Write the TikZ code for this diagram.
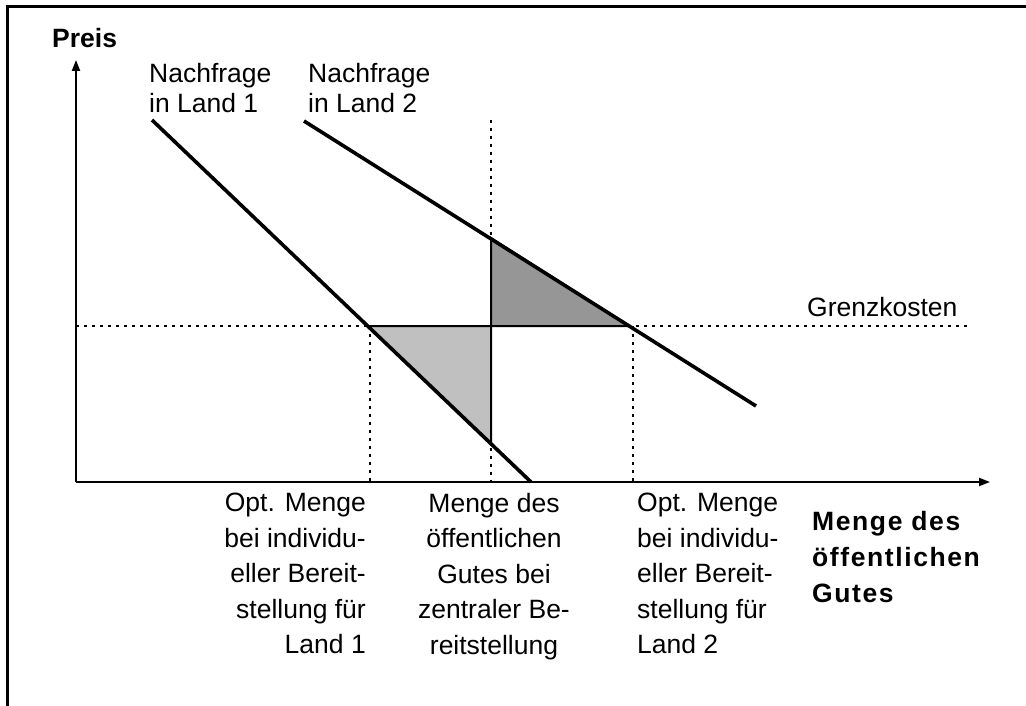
\documentclass[tikz,border=0pt]{standalone}
\usepackage{fontspec}
\setmainfont{Liberation Sans}
\newfontfamily\spacedfont[LetterSpace=6.0]{Liberation Sans}
\usetikzlibrary{arrows.meta}
\definecolor{lightfill}{HTML}{C0C0C0}
\definecolor{darkfill}{HTML}{969696}
\begin{document}
\begin{tikzpicture}[x=1pt,y=-1pt,
  demand/.style={line width=3.6pt},
  axis/.style={line width=2pt,-{Triangle[length=11pt,width=8pt]}},
  dotline/.style={line width=2pt,dash pattern=on 3pt off 5pt},
  tri/.style={line width=2pt},
  lbl/.style={font=\fontsize{26.5}{35.5}\selectfont,inner sep=0pt},
  toplbl/.style={font=\fontsize{26.5}{30.5}\selectfont,inner sep=0pt,align=left,anchor=north west}]
\useasboundingbox (0,0) rectangle (1026,706);
\draw[line width=3pt] (7,706) -- (7,7) -- (1026,7);
% coordinates
\coordinate (O) at (76,482);
\coordinate (Ytip) at (76,60);
\coordinate (Xtip) at (990,482);
\coordinate (D1a) at (152,120);
\coordinate (D1b) at (531,482);
\coordinate (D2a) at (304,121);
\coordinate (D2b) at (756,406);
\coordinate (A) at (368,326);
\coordinate (B) at (491,326);
\coordinate (C) at (491,444);
\coordinate (D) at (491,238);
\coordinate (E) at (629,326);
\coordinate (MCl) at (76,326);
\coordinate (MCr) at (967,326);
\coordinate (Vl) at (370,326);
\coordinate (Vlb) at (370,482);
\coordinate (Vm) at (491,120);
\coordinate (Vmb) at (491,482);
\coordinate (Vr) at (633,326);
\coordinate (Vrb) at (633,482);
% dotted guides
\draw[dotline] (MCl) -- (MCr);
\draw[dotline] (Vl) -- (Vlb);
\draw[dotline] (Vm) -- (Vmb);
\draw[dotline] (Vr) -- (Vrb);
% triangles
\filldraw[tri,fill=lightfill] (A) -- (B) -- (C) -- cycle;
\filldraw[tri,fill=darkfill] (D) -- (B) -- (E) -- cycle;
% demand curves
\draw[demand] (D1a) -- (D1b);
\draw[demand] (D2a) -- (D2b);
% axes
\draw[axis] (O) -- (Ytip);
\draw[axis] (O) -- (Xtip);
% labels
\node[lbl,font=\fontsize{26.5}{31}\selectfont\bfseries,anchor=base west] (preis) at (52,48) {Preis};
\node[toplbl] (n1) at (149,63) {Nachfrage\\in Land 1};
\node[toplbl] (n2) at (308,63) {Nachfrage\\in Land 2};
\node[lbl,anchor=base west] (gk) at (807,316) {Grenzkosten};
\node[lbl,anchor=north east,align=right] (l1) at (366,493) {Opt. Menge\\bei individu-\\eller Bereit-\\stellung für\\Land 1};
\node[lbl,anchor=north,align=center] (lz) at (494,493) {Menge des\\öffentlichen\\Gutes bei\\zentraler Be-\\reitstellung};
\node[lbl,anchor=north west,align=left] (l2) at (637,493) {Opt. Menge\\bei individu-\\eller Bereit-\\stellung für\\Land 2};
\node[inner sep=0pt,anchor=north west,align=left,font=\spacedfont\fontsize{26.5}{36}\selectfont\bfseries] (xl) at (812,511) {Menge des\\öffentlichen\\Gutes};
\end{tikzpicture}
\end{document}
